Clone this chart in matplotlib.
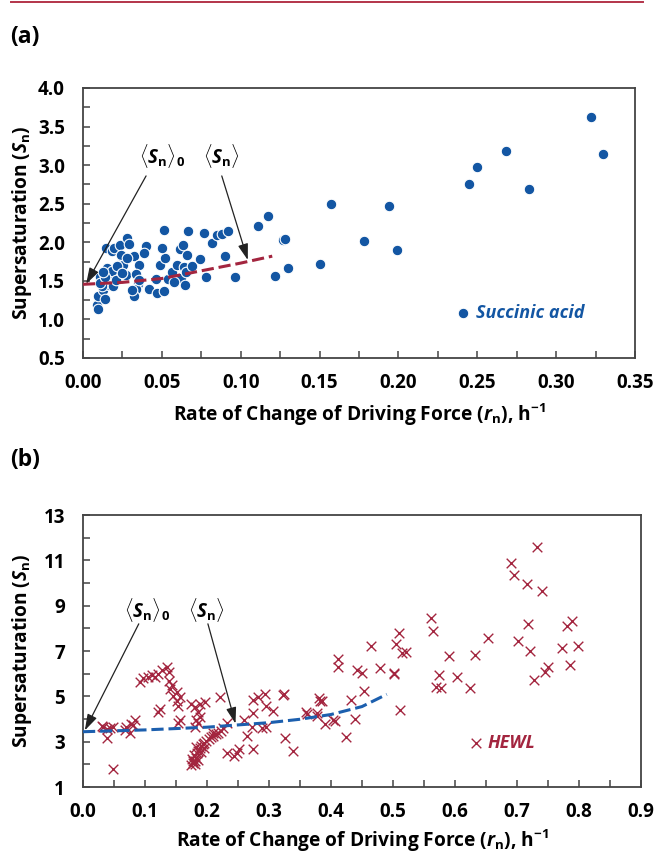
import matplotlib
matplotlib.use("Agg")
import matplotlib.pyplot as plt
from matplotlib.lines import Line2D
from matplotlib.ticker import MultipleLocator, FormatStrFormatter

plt.rcParams['font.family'] = ['Open Sans', 'DejaVu Sans']
plt.rcParams['font.weight'] = 'bold'
plt.rcParams['mathtext.fontset'] = 'custom'
plt.rcParams['mathtext.rm'] = 'Open Sans:bold'
plt.rcParams['mathtext.it'] = 'Open Sans:italic:bold'
plt.rcParams['mathtext.bf'] = 'Open Sans:bold'

BLUE = '#1356a3'
RED = '#a3253f'
SPINE = '#444444'

# (a) succinic acid
succ_x = [0.0087, 0.0097, 0.0097, 0.0129, 0.0161, 0.0167, 0.0182, 0.0154, 0.0182, 0.0140,
          0.0118, 0.0108, 0.0144, 0.0184, 0.0199, 0.0237, 0.0243, 0.0228, 0.0252, 0.0273,
          0.0277, 0.0292, 0.0326, 0.0357, 0.0334, 0.0347, 0.0334, 0.0323, 0.0357, 0.0398,
          0.0387, 0.0420, 0.0471, 0.0514, 0.0490, 0.0518, 0.0499, 0.0516, 0.0541, 0.0565,
          0.0599, 0.0620, 0.0643, 0.0653, 0.0649, 0.0617, 0.0632, 0.0657, 0.0664, 0.0693,
          0.0744, 0.0782, 0.0767, 0.0816, 0.0851, 0.0879, 0.0919, 0.0902, 0.0966, 0.1107,
          0.1171, 0.1270, 0.1283, 0.1219, 0.1300, 0.0108, 0.0192, 0.0140, 0.0213, 0.0209,
          0.0277, 0.0309, 0.0130, 0.0250, 0.0460, 0.0580,
          0.150, 0.157, 0.178, 0.194, 0.199, 0.245, 0.250, 0.268, 0.283, 0.322, 0.330]
succ_y = [1.19, 1.14, 1.31, 1.38, 1.51, 1.45, 1.57, 1.66, 1.63, 1.27,
          1.43, 1.55, 1.92, 1.89, 1.93, 1.97, 1.83, 1.71, 1.70, 1.58,
          2.06, 1.98, 1.82, 1.70, 1.59, 1.46, 1.40, 1.30, 1.51, 1.95,
          1.86, 1.40, 1.34, 1.37, 1.70, 1.79, 1.93, 2.16, 1.53, 1.61,
          1.70, 1.54, 1.68, 1.61, 1.45, 1.91, 1.96, 1.84, 2.14, 1.69,
          1.78, 1.55, 2.12, 1.99, 2.09, 2.11, 2.14, 1.82, 1.55, 2.21,
          2.34, 2.03, 2.04, 1.56, 1.66, 1.47, 1.43, 1.55, 1.69, 1.51,
          1.79, 1.38, 1.62, 1.60, 1.52, 1.48,
          1.72, 2.50, 2.01, 2.47, 1.90, 2.75, 2.98, 3.18, 2.69, 3.63, 3.15]
succ_fit_x = [0.0, 0.025, 0.05, 0.075, 0.10, 0.12]
succ_fit_y = [1.455, 1.48, 1.53, 1.63, 1.73, 1.82]

# (b) HEWL
hewl_x = [0.049, 0.033, 0.038, 0.043, 0.038, 0.030, 0.049, 0.068, 0.076, 0.070,
          0.078, 0.084, 0.081, 0.092, 0.097, 0.105, 0.111, 0.116, 0.121, 0.127,
          0.135, 0.138, 0.138, 0.143, 0.140, 0.146, 0.151, 0.156, 0.154, 0.151,
          0.121, 0.124, 0.154, 0.156, 0.175, 0.181, 0.189, 0.197, 0.186, 0.189,
          0.183, 0.181, 0.186, 0.221, 0.232, 0.226, 0.210,
          0.175, 0.178, 0.180, 0.176, 0.182, 0.179, 0.184, 0.186, 0.181, 0.177,
          0.188, 0.190, 0.193, 0.196, 0.199, 0.203, 0.206, 0.210, 0.214, 0.218,
          0.222, 0.185, 0.183, 0.190, 0.195,
          0.232, 0.243, 0.248, 0.251, 0.275, 0.264, 0.259, 0.275, 0.272, 0.275,
          0.283, 0.294, 0.296, 0.307, 0.288, 0.296, 0.323, 0.325, 0.326, 0.339,
          0.361, 0.377, 0.382,
          0.360, 0.377, 0.380, 0.386, 0.390, 0.404, 0.406, 0.424, 0.411, 0.411,
          0.432, 0.439, 0.442, 0.450, 0.453, 0.465, 0.479, 0.501, 0.502, 0.505,
          0.509, 0.511, 0.514, 0.521, 0.562, 0.564, 0.569, 0.574, 0.578, 0.590,
          0.604, 0.624, 0.632, 0.653, 0.691, 0.695, 0.701, 0.716, 0.717, 0.721,
          0.727, 0.733, 0.740, 0.745, 0.750, 0.772, 0.780, 0.786, 0.788, 0.798]
hewl_y = [1.78, 3.65, 3.55, 3.60, 3.15, 3.70, 3.66, 3.52, 3.37, 3.66,
          3.80, 3.96, 3.73, 5.64, 5.79, 5.86, 5.93, 5.86, 6.00, 6.15,
          6.30, 6.08, 5.70, 5.48, 5.33, 5.03, 4.81, 4.96, 4.59, 5.18,
          4.29, 4.44, 3.81, 3.96, 4.66, 4.51, 4.66, 4.73, 4.29, 4.07,
          3.96, 3.66, 3.81, 4.96, 3.81, 3.59, 3.37,
          1.95, 2.05, 2.15, 2.25, 2.30, 2.40, 2.50, 2.60, 2.00, 2.15,
          2.70, 2.80, 2.90, 2.95, 3.05, 3.10, 3.20, 3.25, 3.35, 3.40,
          3.45, 2.20, 2.75, 2.55, 2.70,
          2.52, 2.37, 2.52, 2.66, 2.66, 3.25, 3.96, 4.25, 3.66, 4.84,
          4.98, 5.12, 4.59, 4.37, 3.59, 3.66, 5.05, 5.12, 3.15, 2.59,
          4.22, 4.12, 4.80,
          4.30, 4.25, 4.91, 4.79, 3.78, 3.96, 3.90, 3.19, 6.63, 6.31,
          4.84, 4.01, 6.16, 6.04, 5.23, 7.22, 6.24, 5.98, 6.04, 7.31,
          7.78, 4.40, 6.90, 6.97, 8.44, 7.90, 5.42, 5.94, 5.35, 6.78,
          5.84, 5.35, 6.82, 7.56, 10.90, 10.34, 7.45, 9.94, 8.18, 7.00,
          5.73, 11.60, 9.66, 6.09, 6.31, 7.12, 8.10, 6.40, 8.34, 7.22]
hewl_fit_x = [0.0, 0.1, 0.2, 0.25, 0.3, 0.35, 0.4, 0.45, 0.49]
hewl_fit_y = [3.44, 3.52, 3.64, 3.74, 3.84, 3.99, 4.20, 4.55, 5.09]

LABEL_SIZE = 13.8
TICK_SIZE = 13.5


def style_axes(ax):
    for s in ax.spines.values():
        s.set_color(SPINE)
        s.set_linewidth(1.3)
    ax.tick_params(which='both', direction='in', length=5, width=1.1,
                   color=SPINE, labelsize=TICK_SIZE, top=False, right=False)
    ax.tick_params(axis='x', which='both', pad=11)
    ax.tick_params(axis='y', which='both', pad=13)
    for lab in ax.get_xticklabels() + ax.get_yticklabels():
        lab.set_fontweight('bold')


fig = plt.figure(figsize=(6.57, 8.55), dpi=100)
fig.add_artist(Line2D([0.017, 0.978], [0.998, 0.998], color='#b3344a', lw=1.4))
fig.text(0.016, 0.957, '(a)', fontsize=16.5, fontweight='bold', va='center')
fig.text(0.016, 0.462, '(b)', fontsize=16.5, fontweight='bold', va='center')

xlab = r'Rate of Change of Driving Force ($r_\mathrm{n}$), h$^{-1}$'
ylab = r'Supersaturation ($S_\mathrm{n}$)'
arrow = dict(arrowstyle='-|>,head_length=0.7,head_width=0.22', color='#222222',
             lw=0.9, mutation_scale=14, shrinkA=0, shrinkB=0)

# panel (a)
ax1 = fig.add_axes([0.1263, 0.5813, 0.8402, 0.3158])
ax1.scatter(succ_x, succ_y, s=58, color=BLUE, edgecolors='white', linewidths=0.8, zorder=3)
ax1.plot(succ_fit_x, succ_fit_y, color=RED, lw=2.2, dashes=(4, 1.6), zorder=4)
ax1.set_xlim(0, 0.35)
ax1.set_ylim(0.5, 4.0)
ax1.xaxis.set_major_locator(MultipleLocator(0.05))
ax1.xaxis.set_minor_locator(MultipleLocator(0.025))
ax1.yaxis.set_major_locator(MultipleLocator(0.5))
ax1.yaxis.set_minor_locator(MultipleLocator(0.25))
ax1.xaxis.set_major_formatter(FormatStrFormatter('%.2f'))
ax1.yaxis.set_major_formatter(FormatStrFormatter('%.1f'))
style_axes(ax1)
ax1.set_xlabel(xlab, fontsize=LABEL_SIZE, fontweight='bold', labelpad=6)
ax1.set_ylabel(ylab, fontsize=LABEL_SIZE, fontweight='bold')
ax1.yaxis.set_label_coords(-0.088, 0.5)
ax1.text(0.050, 3.12, r'$\langle S_\mathrm{n}\rangle_0$', fontsize=13.5, ha='center', va='center')
ax1.text(0.088, 3.12, r'$\langle S_\mathrm{n}\rangle$', fontsize=13.5, ha='center', va='center')
ax1.annotate('', xy=(0.002, 1.46), xytext=(0.040, 2.86), arrowprops=arrow)
ax1.annotate('', xy=(0.1045, 1.77), xytext=(0.088, 2.86), arrowprops=arrow)
ax1.scatter([0.241], [1.08], s=58, color=BLUE, edgecolors='white', linewidths=0.8)
ax1.text(0.249, 1.08, 'Succinic acid', color=BLUE, fontsize=13, fontstyle='italic',
         fontweight='bold', va='center')

# panel (b)
ax2 = fig.add_axes([0.1263, 0.0795, 0.8493, 0.3181])
ax2.scatter(hewl_x, hewl_y, s=48, marker='x', color=RED, linewidths=1.0, zorder=3)
ax2.plot(hewl_fit_x, hewl_fit_y, color='#1c5fae', lw=2.2, dashes=(4, 1.6), zorder=4)
ax2.set_xlim(0, 0.9)
ax2.set_ylim(1, 13)
ax2.xaxis.set_major_locator(MultipleLocator(0.1))
ax2.xaxis.set_minor_locator(MultipleLocator(0.05))
ax2.set_yticks(list(range(1, 14, 2)))
ax2.set_yticks(list(range(1, 14)), minor=True)
ax2.xaxis.set_major_formatter(FormatStrFormatter('%.1f'))
ax2.yaxis.set_major_formatter(FormatStrFormatter('%d'))
style_axes(ax2)
ax2.set_xlabel(xlab, fontsize=LABEL_SIZE, fontweight='bold', labelpad=4)
ax2.set_ylabel(ylab, fontsize=LABEL_SIZE, fontweight='bold')
ax2.yaxis.set_label_coords(-0.087, 0.5)
ax2.text(0.103, 8.8, r'$\langle S_\mathrm{n}\rangle_0$', fontsize=13.5, ha='center', va='center')
ax2.text(0.200, 8.8, r'$\langle S_\mathrm{n}\rangle$', fontsize=13.5, ha='center', va='center')
ax2.annotate('', xy=(0.003, 3.5), xytext=(0.090, 8.2), arrowprops=arrow)
ax2.annotate('', xy=(0.246, 3.8), xytext=(0.2015, 8.2), arrowprops=arrow)
ax2.scatter([0.634], [2.94], s=48, marker='x', color=RED, linewidths=1.0)
ax2.text(0.652, 2.94, 'HEWL', color=RED, fontsize=13, fontstyle='italic',
         fontweight='bold', va='center')

fig.savefig('out.png', dpi=100)
